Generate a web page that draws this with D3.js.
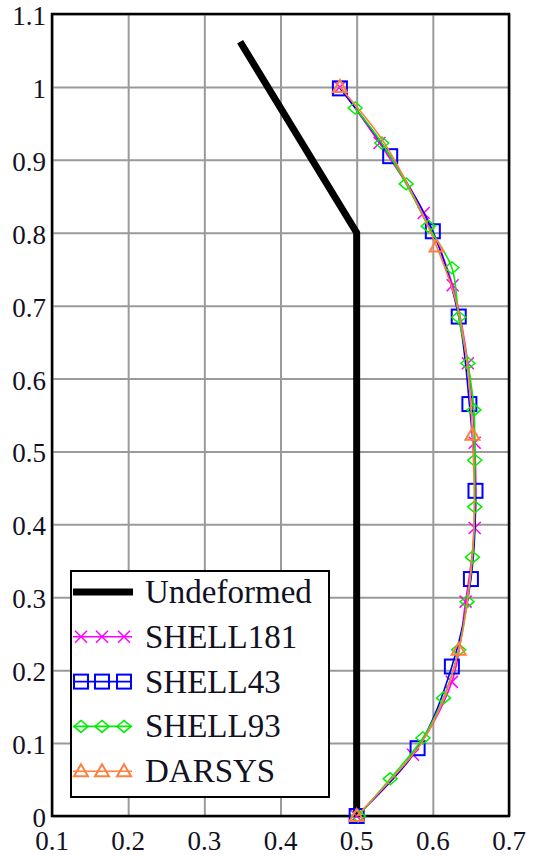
<!DOCTYPE html>
<html>
<head>
<meta charset="utf-8">
<script src="https://cdn.jsdelivr.net/npm/d3@7"></script>
<style>
  body { margin: 0; background: #fff; }
  svg { display: block; }
  svg text { font-family: 'Liberation Serif', 'DejaVu Serif', serif; fill: #111122; }
</style>
</head>
<body>
<div id="chart"></div>
<script>
// values (x = deflection, y = height)
const xTicks = [0.1, 0.2, 0.3, 0.4, 0.5, 0.6, 0.7];
const yTicks = [0, 0.1, 0.2, 0.3, 0.4, 0.5, 0.6, 0.7, 0.8, 0.9, 1, 1.1];

const undeformedX = [0.5, 0.5, 0.347];
const undeformedY = [0, 0.8, 1.062];

const shell181X = [0.5, 0.574, 0.625, 0.643, 0.655, 0.655, 0.646, 0.626, 0.588, 0.53, 0.478];
const shell181Y = [0, 0.084, 0.184, 0.294, 0.395, 0.512, 0.621, 0.728, 0.827, 0.923, 1.0];

const shell43X = [0.5, 0.58, 0.625, 0.65, 0.656, 0.648, 0.634, 0.6, 0.544, 0.478];
const shell43Y = [0, 0.093, 0.205, 0.325, 0.446, 0.565, 0.685, 0.802, 0.905, 0.998];

const shell93X = [0.502, 0.544, 0.587, 0.614, 0.634, 0.645, 0.652, 0.655, 0.655, 0.654, 0.646, 0.634, 0.625, 0.594, 0.565, 0.533, 0.498];
const shell93Y = [0, 0.051, 0.107, 0.162, 0.228, 0.294, 0.355, 0.424, 0.488, 0.557, 0.621, 0.684, 0.752, 0.809, 0.867, 0.923, 0.971];

// DARSYS: triangles only at a few points, the orange trace itself is finer
const darsysX = [0.5, 0.634, 0.652, 0.605, 0.478];
const darsysY = [0, 0.228, 0.523, 0.781, 1.0];
const darsysLineX = [0.5, 0.545, 0.585, 0.614, 0.634, 0.646, 0.654, 0.652, 0.645, 0.632, 0.605, 0.565, 0.532, 0.478];
const darsysLineY = [0, 0.05, 0.1, 0.16, 0.228, 0.3, 0.4, 0.523, 0.62, 0.7, 0.781, 0.87, 0.93, 1.0];

const seriesNames = ['Undeformed', 'SHELL181', 'SHELL43', 'SHELL93', 'DARSYS'];

const width = 533, height = 856;
const margin = { top: 14, right: 24, bottom: 40, left: 52 };

const zip = (xs, ys) => xs.map((x, i) => ({ x: x, y: ys[i] }));

const series = [
  { name: 'SHELL181', pts: zip(shell181X, shell181Y), color: '#ff00ff', marker: 'cross' },
  { name: 'SHELL43', pts: zip(shell43X, shell43Y), color: '#0000ff', marker: 'square' },
  { name: 'SHELL93', pts: zip(shell93X, shell93Y), color: '#00ee00', marker: 'diamond' },
  { name: 'DARSYS', pts: zip(darsysX, darsysY), line: zip(darsysLineX, darsysLineY), color: '#ff7f3f', marker: 'triangle' }
];

const x = d3.scaleLinear().domain([0.1, 0.7]).range([margin.left, width - margin.right]);
const y = d3.scaleLinear().domain([0, 1.1]).range([height - margin.bottom, margin.top]);

const svg = d3.select('#chart')
  .append('svg')
  .attr('width', width)
  .attr('height', height);

// grid
svg.append('g')
  .attr('transform', 'translate(0,' + (height - margin.bottom) + ')')
  .call(d3.axisBottom(x).tickValues(xTicks).tickSize(-(height - margin.top - margin.bottom)).tickFormat(''))
  .call(g => g.select('.domain').remove())
  .call(g => g.selectAll('line').attr('stroke', '#9a9a9a').attr('stroke-width', 2));

svg.append('g')
  .attr('transform', 'translate(' + margin.left + ',0)')
  .call(d3.axisLeft(y).tickValues(yTicks).tickSize(-(width - margin.left - margin.right)).tickFormat(''))
  .call(g => g.select('.domain').remove())
  .call(g => g.selectAll('line').attr('stroke', '#9a9a9a').attr('stroke-width', 2));

// tick labels
svg.append('g').selectAll('text')
  .data(xTicks)
  .join('text')
  .attr('x', d => x(d))
  .attr('y', 850)
  .attr('text-anchor', 'middle')
  .attr('font-size', 27)
  .text(d => d3.format('.1f')(d));

svg.append('g').selectAll('text')
  .data(yTicks)
  .join('text')
  .attr('x', 46)
  .attr('y', d => y(d) + 11)
  .attr('text-anchor', 'end')
  .attr('font-size', 27)
  .text(d => d === 0 || d === 1 ? d : d3.format('.1f')(d));

// frame
svg.append('rect')
  .attr('x', margin.left)
  .attr('y', margin.top)
  .attr('width', width - margin.left - margin.right)
  .attr('height', height - margin.top - margin.bottom)
  .attr('fill', 'none')
  .attr('stroke', '#000')
  .attr('stroke-width', 2.5);

// markers
function drawMarker(g, type, cx, cy, color) {
  if (type === 'square') {
    g.append('rect').attr('x', cx - 7).attr('y', cy - 7).attr('width', 14).attr('height', 14)
      .attr('fill', 'none').attr('stroke', color).attr('stroke-width', 2);
  } else if (type === 'diamond') {
    g.append('path').attr('d', `M${cx},${cy - 6}L${cx + 7},${cy}L${cx},${cy + 6}L${cx - 7},${cy}Z`)
      .attr('fill', 'none').attr('stroke', color).attr('stroke-width', 1.5);
  } else if (type === 'cross') {
    g.append('path').attr('d', `M${cx - 6},${cy - 6}L${cx + 6},${cy + 6}M${cx - 6},${cy + 6}L${cx + 6},${cy - 6}`)
      .attr('fill', 'none').attr('stroke', color).attr('stroke-width', 1.5);
  } else if (type === 'triangle') {
    g.append('path').attr('d', `M${cx},${cy - 7}L${cx + 7},${cy + 5}L${cx - 7},${cy + 5}Z`)
      .attr('fill', 'none').attr('stroke', color).attr('stroke-width', 2);
  }
}

// undeformed shape
svg.append('path')
  .datum(zip(undeformedX, undeformedY))
  .attr('fill', 'none')
  .attr('stroke', '#000')
  .attr('stroke-width', 7)
  .attr('d', d3.line().x(d => x(d.x)).y(d => y(d.y)));

const curve = d3.line().x(d => x(d.x)).y(d => y(d.y)).curve(d3.curveCatmullRom.alpha(0.5));

series.forEach(s => {
  const g = svg.append('g');
  g.append('path')
    .datum(s.line || s.pts)
    .attr('fill', 'none')
    .attr('stroke', s.color)
    .attr('stroke-width', 1.6)
    .attr('d', curve);
  s.pts.forEach(p => drawMarker(g, s.marker, x(p.x), y(p.y), s.color));
});

// legend
const legend = svg.append('g');
legend.append('rect')
  .attr('x', 71).attr('y', 571)
  .attr('width', 258).attr('height', 226)
  .attr('fill', '#fff')
  .attr('stroke', '#000')
  .attr('stroke-width', 2);

seriesNames.forEach((name, i) => {
  const ly = 592 + i * 44.8;
  const row = legend.append('g');
  if (i === 0) {
    row.append('line').attr('x1', 73).attr('x2', 133).attr('y1', ly).attr('y2', ly)
      .attr('stroke', '#000').attr('stroke-width', 7);
  } else {
    const s = series[i - 1];
    row.append('line').attr('x1', 73).attr('x2', 132).attr('y1', ly).attr('y2', ly)
      .attr('stroke', s.color).attr('stroke-width', 1.6);
    [81, 102, 124].forEach(mx => drawMarker(row, s.marker, mx, ly, s.color));
  }
  row.append('text')
    .attr('x', 145)
    .attr('y', ly + 11)
    .attr('font-size', 33)
    .text(name);
});
</script>
</body>
</html>
